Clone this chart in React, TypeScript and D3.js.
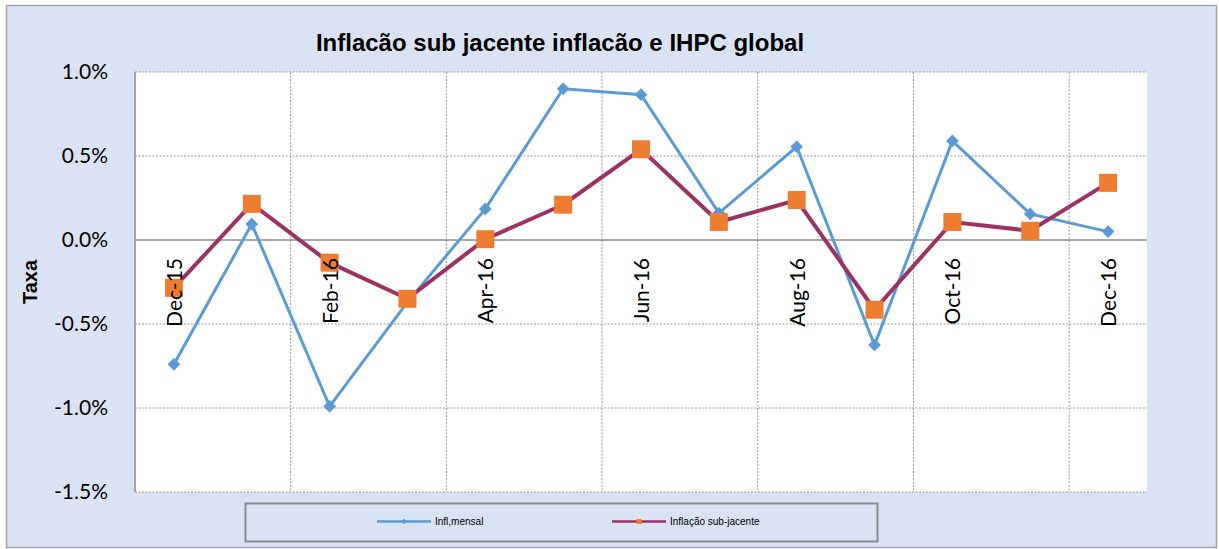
import React from "react";
import * as d3 from "d3";

const categories = ["Dec-15","Jan-16","Feb-16","Mar-16","Apr-16","May-16","Jun-16","Jul-16","Aug-16","Sep-16","Oct-16","Nov-16","Dec-16"];
const inflMensal = [-0.74, 0.095, -0.99, -0.37, 0.185, 0.9, 0.865, 0.16, 0.555, -0.625, 0.59, 0.155, 0.05];
const inflSubJacente = [-0.285, 0.215, -0.135, -0.35, 0.005, 0.21, 0.54, 0.107, 0.238, -0.415, 0.107, 0.055, 0.34];
const yTicks = [1.0, 0.5, 0.0, -0.5, -1.0, -1.5];
const labelCats = ["Dec-15","Feb-16","Apr-16","Jun-16","Aug-16","Oct-16","Dec-16"];

export default function App() {
  const W = 1219, H = 549;
  const left = 135, right = 1147, top = 72, bottom = 492;
  const x = d3.scaleBand<string>().domain(categories).range([left, right]);
  const y = d3.scaleLinear().domain([-1.5, 1.0]).range([bottom, top]);
  const cx = (c: string) => (x(c) as number) + x.bandwidth() / 2;
  const line = d3.line<number>().x((_, i) => cx(categories[i])).y((d) => y(d));
  const gridX = categories.map((c, i) => i).filter((i) => i > 0 && i % 2 === 0).map((i) => x(categories[i]) as number);
  const font = "Lato, 'Liberation Sans', sans-serif";
  const fmt = (t: number) => d3.format(".1f")(t).replace("\u2212", "-") + "%";
  return (
    <svg width={W} height={H} style={{ position: "absolute", left: 0, top: 0 }}>
      <rect x={6.5} y={5.5} width={1210} height={542} fill="#dae3f3" stroke="#a6a6a6" strokeWidth={1.5} />
      <rect x={left} y={top} width={right - left} height={bottom - top} fill="#ffffff" />
      {yTicks.filter((t) => t !== 0).map((t) => (
        <line key={"gy" + t} x1={left} x2={right} y1={y(t)} y2={y(t)} stroke="#9a9a9a" strokeWidth={1} strokeDasharray="2,1.5" />
      ))}
      {gridX.map((gx, i) => (
        <line key={"gx" + i} x1={gx} x2={gx} y1={top} y2={bottom} stroke="#9a9a9a" strokeWidth={1} strokeDasharray="2,1.5" />
      ))}
      <line x1={left} x2={left} y1={top} y2={bottom} stroke="#8c8c8c" strokeWidth={1.5} />
      <line x1={left} x2={right} y1={y(0)} y2={y(0)} stroke="#8c8c8c" strokeWidth={1.5} />
      {yTicks.map((t) => (
        <text key={"yt" + t} x={108} y={y(t)} dy="0.35em" textAnchor="end" fontFamily={font} fontSize={21} fill="#000">
          {fmt(t)}
        </text>
      ))}
      <path d={line(inflMensal) || ""} fill="none" stroke="#5b9bd5" strokeWidth={3} />
      {inflMensal.map((v, i) => (
        <rect key={"d" + i} x={-4.5} y={-4.5} width={9} height={9} fill="#5b9bd5" transform={`translate(${cx(categories[i])},${y(v)}) rotate(45)`} />
      ))}
      <path d={line(inflSubJacente) || ""} fill="none" stroke="#9b3263" strokeWidth={4} />
      {inflSubJacente.map((v, i) => (
        <rect key={"s" + i} x={cx(categories[i]) - 9} y={y(v) - 9} width={18} height={18} fill="#ed7d31" />
      ))}
      {labelCats.map((c) => (
        <text key={"xl" + c} transform={`translate(${cx(c) + 8},${y(0) + 18}) rotate(-90)`} textAnchor="end" fontFamily={font} fontSize={21} fill="#000">
          {c}
        </text>
      ))}
      <text x={560} y={51} textAnchor="middle" fontFamily="'Liberation Sans', Arial, sans-serif" fontWeight="bold" fontSize={24} fill="#000">
        Inflacão sub jacente inflacão e IHPC global
      </text>
      <text transform={`translate(37,${(top + bottom) / 2}) rotate(-90)`} textAnchor="middle" fontFamily="'Liberation Sans', Arial, sans-serif" fontWeight="bold" fontSize={20} fill="#000">
        Taxa
      </text>
      <rect x={245.5} y={503.5} width={632} height={38} fill="#dae3f3" stroke="#8c8c8c" strokeWidth={2} />
      <line x1={377} x2={431} y1={521.5} y2={521.5} stroke="#5b9bd5" strokeWidth={2.5} />
      <rect x={-2} y={-2} width={4} height={4} fill="#5b9bd5" transform="translate(404,521.5) rotate(45)" />
      <text x={435} y={521.5} dy="0.35em" fontFamily="'Liberation Sans Narrow', 'Liberation Sans', sans-serif" fontSize={10} fill="#000">Infl,mensal</text>
      <line x1={612} x2={666} y1={521.5} y2={521.5} stroke="#9b3263" strokeWidth={2.5} />
      <rect x={636.5} y={519} width={5} height={5} fill="#ed7d31" />
      <text x={670} y={521.5} dy="0.35em" fontFamily="'Liberation Sans Narrow', 'Liberation Sans', sans-serif" fontSize={10} fill="#000">Inflação sub-jacente</text>
    </svg>
  );
}
